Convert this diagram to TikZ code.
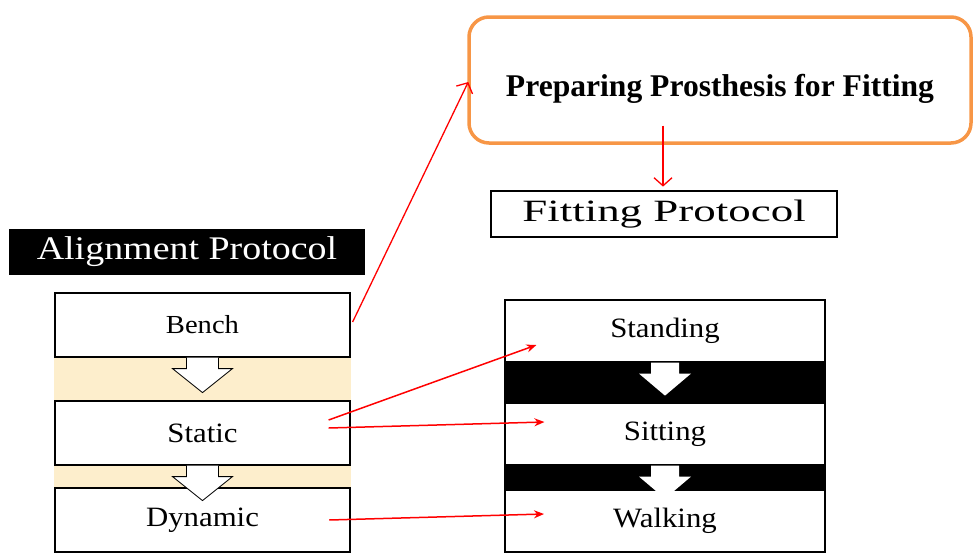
\documentclass[tikz,border=0pt]{standalone}
\usepackage{fontspec}
\setmainfont{Liberation Serif}
\newfontfamily\boxfont[FakeStretch=1.1]{Liberation Serif}
\newfontfamily\alignfont[FakeStretch=1.15]{Liberation Serif}
\newfontfamily\fitfont[FakeStretch=1.45]{Liberation Serif}
\usetikzlibrary{arrows.meta,calc,backgrounds,positioning}
\definecolor{bandtan}{RGB}{253,238,204}
\definecolor{prepOrange}{RGB}{247,150,70}
\tikzset{
  stepbox/.style={draw=black, fill=white, line width=1.2pt, inner sep=0pt,
    minimum width=295pt, minimum height=64pt, font=\boxfont\fontsize{28}{32}\selectfont},
  fitbox/.style={stepbox, minimum width=320pt, minimum height=62pt},
  redarrow/.style={draw=red, line width=1.5pt, -{Stealth[length=10pt,width=8pt]}},
  redbarb/.style={draw=red, line width=1.3pt, -{Straight Barb[length=8pt,width=18pt]}},
  alignarrow/.pic={
    \filldraw[fill=white, draw=black, line width=0.8pt]
      (-16,0) -- (-16,11) -- (-30,11) -- (0,35) -- (30,11) -- (16,11) -- (16,0);
  },
  fitarrow/.pic={
    \fill[white] (-14,0) -- (-14,11) -- (-26,11) -- (0,33) -- (26,11) -- (14,11) -- (14,0) -- cycle;
  }
}
\begin{document}
\begin{tikzpicture}[x=1pt, y=-1pt]
  \useasboundingbox (0,0) rectangle (974,552);
  % top box
  \node[draw=prepOrange, line width=3.5pt, rounded corners=20pt,
        minimum width=502pt, minimum height=126pt] (prep) at (720,80) {};
  \node[font=\bfseries\fontsize{31.6}{36}\selectfont] (preptext) at ($(prep.center)+(0,9)$)
        {Preparing Prosthesis for Fitting};
  % headings
  \node[fill=black, text=white, minimum width=356pt, minimum height=46pt, inner sep=0pt,
        font=\alignfont\fontsize{33}{38}\selectfont] (alignhead) at (187,252) {Alignment Protocol};
  \node[draw=black, line width=2.8pt, minimum width=346pt, minimum height=46pt, inner sep=0pt,
        font=\fitfont\fontsize{31}{36}\selectfont] (fithead) at (664,214) {Fitting Protocol};
  % alignment steps
  \node[stepbox, font=\boxfont\fontsize{26}{30}\selectfont] (bench) at (202.5,325) {Bench};
  \node[stepbox] (static) at (202.5,433) {Static};
  \node[stepbox, line width=2.5pt] (dynamic) at (202.5,520) {Dynamic};
  % fitting steps
  \node[fitbox] (standing) at (665,331) {Standing};
  \node[fitbox] (sitting) at (665,434) {Sitting};
  \node[fitbox, line width=2pt] (walking) at (665,521) {Walking};
  \begin{scope}[on background layer]
    \fill[bandtan] (bench.south west) rectangle (static.north east);
    \fill[bandtan] (static.south west) rectangle (dynamic.north east);
  \end{scope}
  \fill[black] (standing.south west) rectangle (sitting.north east);
  \fill[black] (sitting.south west) rectangle (walking.north east);
  \pic at (bench.south) {alignarrow};
  \pic at (static.south) {alignarrow};
  \pic at (standing.south) {fitarrow};
  \pic at (sitting.south) {fitarrow};
  % connectors
  \draw[redbarb] ($(bench.east)+(2,-3)$) -- ($(prep.west)+(1,2)$);
  \draw[redbarb] ($(fithead.north)+(-1,-64)$) -- ($(fithead.north)+(-1,-3)$);
  \draw[redarrow] ($(static.east)+(-22,-13)$) -- ($(standing.west)+(32,14)$);
  \draw[redarrow] ($(static.east)+(-22,-5)$) -- ($(sitting.west)+(40,-12)$);
  \draw[redarrow] ($(dynamic.east)+(-22,0)$) -- ($(walking.west)+(40,-7)$);
\end{tikzpicture}
\end{document}
